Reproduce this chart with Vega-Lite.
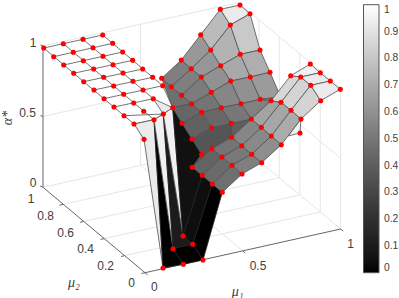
{"$schema":"https://vega.github.io/schema/vega-lite/v6.json","width":399,"height":298,"padding":0,"autosize":"none","background":"white","config":{"view":{"stroke":null}},
"datasets":{
"walls":[
{"p":1,"x":42.7,"y":187.3},{"p":1,"x":238.4,"y":143.6},{"p":1,"x":340.7,"y":229},
{"p":2,"x":42.7,"y":116.5},{"p":2,"x":238.4,"y":72.8},{"p":2,"x":340.7,"y":158.5},
{"p":3,"x":42.7,"y":46},{"p":3,"x":238.4,"y":2.6},{"p":3,"x":340.7,"y":88},
{"p":4,"x":238.4,"y":143.6},{"p":4,"x":238.4,"y":2.6},
{"p":5,"x":140.5,"y":24.3},{"p":5,"x":140.5,"y":165.5},{"p":5,"x":242.8,"y":251},
{"p":6,"x":258.9,"y":19.7},{"p":6,"x":258.9,"y":160.7},{"p":6,"x":63.2,"y":204.4},
{"p":7,"x":279.3,"y":36.8},{"p":7,"x":279.3,"y":177.8},{"p":7,"x":83.6,"y":221.5},
{"p":8,"x":299.8,"y":53.9},{"p":8,"x":299.8,"y":194.9},{"p":8,"x":104.1,"y":238.6},
{"p":9,"x":320.3,"y":71},{"p":9,"x":320.3,"y":212},{"p":9,"x":124.5,"y":255.7},
{"p":10,"x":340.7,"y":88},{"p":10,"x":340.7,"y":229}],
"axes":[
{"p":1,"x":43,"y":46},{"p":1,"x":43,"y":187.3},{"p":1,"x":145,"y":272.7},{"p":1,"x":340.7,"y":229},
{"p":2,"x":40.5,"y":45},{"p":2,"x":43,"y":46},{"p":3,"x":40.5,"y":115.5},{"p":3,"x":43,"y":116.5},{"p":4,"x":40,"y":186},{"p":4,"x":43,"y":187.3},
{"p":5,"x":59.5,"y":205.2},{"p":5,"x":63.2,"y":204.4},{"p":6,"x":80,"y":222.3},{"p":6,"x":83.6,"y":221.5},{"p":7,"x":100.5,"y":239.4},{"p":7,"x":104.1,"y":238.6},{"p":8,"x":121,"y":256.5},{"p":8,"x":124.5,"y":255.7},{"p":9,"x":141.5,"y":273.5},{"p":9,"x":145,"y":272.7},
{"p":10,"x":145,"y":272.7},{"p":10,"x":147.5,"y":274.8},{"p":11,"x":242.8,"y":251},{"p":11,"x":245.3,"y":253.1},{"p":12,"x":340.7,"y":229},{"p":12,"x":343.2,"y":231.1}],
"cbticks":[
{"p":1,"x":376,"y":245.9},{"p":1,"x":379,"y":245.9},{"p":2,"x":376,"y":219.1},{"p":2,"x":379,"y":219.1},{"p":3,"x":376,"y":192.3},{"p":3,"x":379,"y":192.3},{"p":4,"x":376,"y":165.5},{"p":4,"x":379,"y":165.5},{"p":5,"x":376,"y":138.7},{"p":5,"x":379,"y":138.7},{"p":6,"x":376,"y":111.9},{"p":6,"x":379,"y":111.9},{"p":7,"x":376,"y":85.1},{"p":7,"x":379,"y":85.1},{"p":8,"x":376,"y":58.3},{"p":8,"x":379,"y":58.3},{"p":9,"x":376,"y":31.5},{"p":9,"x":379,"y":31.5}],
"polys":[
{"p":1,"a":1,"x":43.7,"y":48},{"p":1,"a":1,"x":102.7,"y":35},{"p":1,"a":1,"x":162.7,"y":85.7},{"p":1,"a":1,"x":172.7,"y":107.7},{"p":1,"a":1,"x":163.3,"y":114},{"p":1,"a":1,"x":154,"y":119.7},{"p":1,"a":1,"x":134,"y":124},{"p":1,"a":1,"x":43.7,"y":48},
{"p":2,"a":1,"x":53.7,"y":56.7},{"p":2,"a":1,"x":112.7,"y":43.3},
{"p":3,"a":1,"x":63.7,"y":65},{"p":3,"a":1,"x":122.7,"y":52},
{"p":4,"a":1,"x":73.7,"y":73.3},{"p":4,"a":1,"x":132.7,"y":60.3},
{"p":5,"a":1,"x":83.7,"y":81.7},{"p":5,"a":1,"x":142.7,"y":69},
{"p":6,"a":1,"x":94,"y":90},{"p":6,"a":1,"x":152.7,"y":77.3},
{"p":7,"a":1,"x":104,"y":98.7},{"p":7,"a":1,"x":162.7,"y":85.7},
{"p":8,"a":1,"x":114,"y":107},{"p":8,"a":1,"x":153.3,"y":98.7},
{"p":9,"a":1,"x":124,"y":115.7},{"p":9,"a":1,"x":163.3,"y":114},
{"p":10,"a":1,"x":63.3,"y":43.7},{"p":10,"a":1,"x":154,"y":119.7},
{"p":11,"a":1,"x":83,"y":39.3},{"p":11,"a":1,"x":153.3,"y":98.7},
{"p":12,"a":0.93,"x":153.3,"y":98.7},{"p":12,"a":0.93,"x":172.7,"y":107.7},{"p":12,"a":0.93,"x":163.3,"y":114},{"p":12,"a":0.93,"x":153.3,"y":98.7},
{"p":13,"a":0.93,"x":134,"y":124},{"p":13,"a":0.93,"x":154,"y":119.7},{"p":13,"a":0.93,"x":163,"y":268},{"p":13,"a":0.93,"x":144,"y":139.3},{"p":13,"a":0.93,"x":134,"y":124},
{"p":14,"a":0,"x":154,"y":119.7},{"p":14,"a":0,"x":173,"y":248.7},{"p":14,"a":0,"x":183.3,"y":264.3},{"p":14,"a":0,"x":163,"y":268},{"p":14,"a":0,"x":154,"y":119.7},
{"p":15,"a":0.95,"x":154,"y":119.7},{"p":15,"a":0.95,"x":163.3,"y":114},{"p":15,"a":0.95,"x":173,"y":248.7},{"p":15,"a":0.95,"x":154,"y":119.7},
{"p":16,"a":0.1,"x":163.3,"y":114},{"p":16,"a":0.1,"x":183,"y":236},{"p":16,"a":0.1,"x":192.7,"y":244.3},{"p":16,"a":0.1,"x":173,"y":248.7},{"p":16,"a":0.1,"x":163.3,"y":114},
{"p":17,"a":0.95,"x":163.3,"y":114},{"p":17,"a":0.95,"x":172.7,"y":107.7},{"p":17,"a":0.95,"x":183,"y":236},{"p":17,"a":0.95,"x":163.3,"y":114},
{"p":18,"a":0.05,"x":172.7,"y":107.7},{"p":18,"a":0.05,"x":192,"y":139},{"p":18,"a":0.05,"x":201.7,"y":154.3},{"p":18,"a":0.05,"x":192.3,"y":167.3},{"p":18,"a":0.05,"x":202.3,"y":175.3},{"p":18,"a":0.05,"x":183,"y":236},{"p":18,"a":0.05,"x":172.7,"y":107.7},
{"p":19,"a":0.04,"x":183,"y":236},{"p":19,"a":0.04,"x":202.3,"y":175.3},{"p":19,"a":0.04,"x":212.3,"y":184},{"p":19,"a":0.04,"x":192.7,"y":244.3},{"p":19,"a":0.04,"x":183,"y":236},
{"p":20,"a":0,"x":192.7,"y":244.3},{"p":20,"a":0,"x":212.3,"y":184},{"p":20,"a":0,"x":222.3,"y":192.3},{"p":20,"a":0,"x":203,"y":260},{"p":20,"a":0,"x":192.7,"y":244.3},
{"p":21,"a":0,"x":173,"y":248.7},{"p":21,"a":0,"x":192.7,"y":244.3},{"p":21,"a":0,"x":203,"y":260},{"p":21,"a":0,"x":183.3,"y":264.3},{"p":21,"a":0,"x":173,"y":248.7},
{"p":22,"a":0.47,"x":161.7,"y":78.3},{"p":22,"a":0.47,"x":171.3,"y":86.7},{"p":22,"a":0.47,"x":181.7,"y":95.3},{"p":22,"a":0.47,"x":191.7,"y":103.7},{"p":22,"a":0.47,"x":172.7,"y":107.7},{"p":22,"a":0.47,"x":161.7,"y":78.3},
{"p":23,"a":0.43,"x":172.7,"y":107.7},{"p":23,"a":0.43,"x":191.7,"y":103.7},{"p":23,"a":0.43,"x":201.7,"y":112.3},{"p":23,"a":0.43,"x":182,"y":123.3},{"p":23,"a":0.43,"x":172.7,"y":107.7},
{"p":24,"a":0.41,"x":182,"y":123.3},{"p":24,"a":0.41,"x":201.7,"y":112.3},{"p":24,"a":0.41,"x":211.7,"y":127.7},{"p":24,"a":0.41,"x":192,"y":139},{"p":24,"a":0.41,"x":182,"y":123.3},
{"p":25,"a":0.36,"x":192,"y":139},{"p":25,"a":0.36,"x":211.7,"y":127.7},{"p":25,"a":0.36,"x":212,"y":148.7},{"p":25,"a":0.36,"x":201.7,"y":154.3},{"p":25,"a":0.36,"x":192,"y":139},
{"p":26,"a":0.36,"x":201.7,"y":154.3},{"p":26,"a":0.36,"x":212,"y":148.7},{"p":26,"a":0.36,"x":192.3,"y":167.3},{"p":26,"a":0.36,"x":201.7,"y":154.3},
{"p":27,"a":0.36,"x":211.7,"y":127.7},{"p":27,"a":0.36,"x":231.3,"y":123.3},{"p":27,"a":0.36,"x":231.7,"y":137.3},{"p":27,"a":0.36,"x":212,"y":148.7},{"p":27,"a":0.36,"x":211.7,"y":127.7},
{"p":28,"a":0.4,"x":231.3,"y":123.3},{"p":28,"a":0.4,"x":251.3,"y":119},{"p":28,"a":0.4,"x":231.7,"y":137.3},{"p":28,"a":0.4,"x":231.3,"y":123.3},
{"p":30,"a":0.53,"x":161.7,"y":78.3},{"p":30,"a":0.53,"x":181.3,"y":60},{"p":30,"a":0.53,"x":191.3,"y":68.7},{"p":30,"a":0.53,"x":171.3,"y":86.7},{"p":30,"a":0.53,"x":161.7,"y":78.3},
{"p":31,"a":0.63,"x":181.3,"y":60},{"p":31,"a":0.63,"x":200.7,"y":34.7},{"p":31,"a":0.63,"x":210.7,"y":50},{"p":31,"a":0.63,"x":191.3,"y":68.7},{"p":31,"a":0.63,"x":181.3,"y":60},
{"p":32,"a":0.76,"x":200.7,"y":34.7},{"p":32,"a":0.76,"x":220.3,"y":9.3},{"p":32,"a":0.76,"x":230.3,"y":25},{"p":32,"a":0.76,"x":210.7,"y":50},{"p":32,"a":0.76,"x":200.7,"y":34.7},
{"p":33,"a":0.93,"x":220.3,"y":9.3},{"p":33,"a":0.93,"x":240,"y":5},{"p":33,"a":0.93,"x":250,"y":13.7},{"p":33,"a":0.93,"x":230.3,"y":25},{"p":33,"a":0.93,"x":220.3,"y":9.3},
{"p":34,"a":0.53,"x":171.3,"y":86.7},{"p":34,"a":0.53,"x":191.3,"y":68.7},{"p":34,"a":0.53,"x":201.3,"y":77},{"p":34,"a":0.53,"x":181.7,"y":95.3},{"p":34,"a":0.53,"x":171.3,"y":86.7},
{"p":35,"a":0.62,"x":191.3,"y":68.7},{"p":35,"a":0.62,"x":210.7,"y":50},{"p":35,"a":0.62,"x":220.7,"y":65.7},{"p":35,"a":0.62,"x":201.3,"y":77},{"p":35,"a":0.62,"x":191.3,"y":68.7},
{"p":36,"a":0.73,"x":210.7,"y":50},{"p":36,"a":0.73,"x":230.3,"y":25},{"p":36,"a":0.73,"x":240.3,"y":54.3},{"p":36,"a":0.73,"x":220.7,"y":65.7},{"p":36,"a":0.73,"x":210.7,"y":50},
{"p":37,"a":0.81,"x":230.3,"y":25},{"p":37,"a":0.81,"x":250,"y":13.7},{"p":37,"a":0.81,"x":260,"y":50},{"p":37,"a":0.81,"x":240.3,"y":54.3},{"p":37,"a":0.81,"x":230.3,"y":25},
{"p":38,"a":0.52,"x":181.7,"y":95.3},{"p":38,"a":0.52,"x":201.3,"y":77},{"p":38,"a":0.52,"x":211.3,"y":92.3},{"p":38,"a":0.52,"x":191.7,"y":103.7},{"p":38,"a":0.52,"x":181.7,"y":95.3},
{"p":39,"a":0.6,"x":201.3,"y":77},{"p":39,"a":0.6,"x":220.7,"y":65.7},{"p":39,"a":0.6,"x":230.7,"y":81},{"p":39,"a":0.6,"x":211.3,"y":92.3},{"p":39,"a":0.6,"x":201.3,"y":77},
{"p":40,"a":0.69,"x":220.7,"y":65.7},{"p":40,"a":0.69,"x":240.3,"y":54.3},{"p":40,"a":0.69,"x":250.3,"y":77},{"p":40,"a":0.69,"x":230.7,"y":81},{"p":40,"a":0.69,"x":220.7,"y":65.7},
{"p":41,"a":0.71,"x":240.3,"y":54.3},{"p":41,"a":0.71,"x":260,"y":50},{"p":41,"a":0.71,"x":270,"y":72.3},{"p":41,"a":0.71,"x":250.3,"y":77},{"p":41,"a":0.71,"x":240.3,"y":54.3},
{"p":42,"a":0.49,"x":191.7,"y":103.7},{"p":42,"a":0.49,"x":211.3,"y":92.3},{"p":42,"a":0.49,"x":221.3,"y":107.7},{"p":42,"a":0.49,"x":201.7,"y":112.3},{"p":42,"a":0.49,"x":191.7,"y":103.7},
{"p":43,"a":0.56,"x":211.3,"y":92.3},{"p":43,"a":0.56,"x":230.7,"y":81},{"p":43,"a":0.56,"x":241,"y":103.7},{"p":43,"a":0.56,"x":221.3,"y":107.7},{"p":43,"a":0.56,"x":211.3,"y":92.3},
{"p":44,"a":0.6,"x":230.7,"y":81},{"p":44,"a":0.6,"x":250.3,"y":77},{"p":44,"a":0.6,"x":260.3,"y":99.3},{"p":44,"a":0.6,"x":241,"y":103.7},{"p":44,"a":0.6,"x":230.7,"y":81},
{"p":45,"a":0.64,"x":250.3,"y":77},{"p":45,"a":0.64,"x":270,"y":72.3},{"p":45,"a":0.64,"x":280.7,"y":97},{"p":45,"a":0.64,"x":260.3,"y":99.3},{"p":45,"a":0.64,"x":250.3,"y":77},
{"p":46,"a":0.44,"x":201.7,"y":112.3},{"p":46,"a":0.44,"x":221.3,"y":107.7},{"p":46,"a":0.44,"x":231.3,"y":123.3},{"p":46,"a":0.44,"x":211.7,"y":127.7},{"p":46,"a":0.44,"x":201.7,"y":112.3},
{"p":47,"a":0.5,"x":221.3,"y":107.7},{"p":47,"a":0.5,"x":241,"y":103.7},{"p":47,"a":0.5,"x":251.3,"y":119},{"p":47,"a":0.5,"x":231.3,"y":123.3},{"p":47,"a":0.5,"x":221.3,"y":107.7},
{"p":48,"a":0.54,"x":241,"y":103.7},{"p":48,"a":0.54,"x":260.3,"y":99.3},{"p":48,"a":0.54,"x":271,"y":100.7},{"p":48,"a":0.54,"x":251.3,"y":119},{"p":48,"a":0.54,"x":241,"y":103.7},
{"p":49,"a":0.58,"x":260.3,"y":99.3},{"p":49,"a":0.58,"x":280.7,"y":97},{"p":49,"a":0.58,"x":281,"y":102.3},{"p":49,"a":0.58,"x":271,"y":100.7},{"p":49,"a":0.58,"x":260.3,"y":99.3},
{"p":50,"a":0.95,"x":300,"y":133},{"p":50,"a":0.95,"x":301,"y":119},{"p":50,"a":0.95,"x":288,"y":136},{"p":50,"a":0.95,"x":300,"y":133},
{"p":51,"a":0.42,"x":192.3,"y":167.3},{"p":51,"a":0.42,"x":212,"y":148.7},{"p":51,"a":0.42,"x":222,"y":157},{"p":51,"a":0.42,"x":202.3,"y":175.3},{"p":51,"a":0.42,"x":192.3,"y":167.3},
{"p":52,"a":0.49,"x":212,"y":148.7},{"p":52,"a":0.49,"x":231.7,"y":137.3},{"p":52,"a":0.49,"x":241.7,"y":145.7},{"p":52,"a":0.49,"x":222,"y":157},{"p":52,"a":0.49,"x":212,"y":148.7},
{"p":53,"a":0.56,"x":231.7,"y":137.3},{"p":53,"a":0.56,"x":251.3,"y":119},{"p":53,"a":0.56,"x":261.3,"y":127.3},{"p":53,"a":0.56,"x":241.7,"y":145.7},{"p":53,"a":0.56,"x":231.7,"y":137.3},
{"p":54,"a":0.67,"x":251.3,"y":119},{"p":54,"a":0.67,"x":271,"y":100.7},{"p":54,"a":0.67,"x":281,"y":102.3},{"p":54,"a":0.67,"x":261.3,"y":127.3},{"p":54,"a":0.67,"x":251.3,"y":119},
{"p":55,"a":0.86,"x":271,"y":100.7},{"p":55,"a":0.86,"x":290.7,"y":75.7},{"p":55,"a":0.86,"x":300.7,"y":77},{"p":55,"a":0.86,"x":281,"y":102.3},{"p":55,"a":0.86,"x":271,"y":100.7},
{"p":56,"a":0.95,"x":290.7,"y":75.7},{"p":56,"a":0.95,"x":310.3,"y":64},{"p":56,"a":0.95,"x":320.3,"y":72.7},{"p":56,"a":0.95,"x":300.7,"y":77},{"p":56,"a":0.95,"x":290.7,"y":75.7},
{"p":57,"a":0.45,"x":202.3,"y":175.3},{"p":57,"a":0.45,"x":222,"y":157},{"p":57,"a":0.45,"x":232,"y":165.3},{"p":57,"a":0.45,"x":212.3,"y":184},{"p":57,"a":0.45,"x":202.3,"y":175.3},
{"p":58,"a":0.51,"x":222,"y":157},{"p":58,"a":0.51,"x":241.7,"y":145.7},{"p":58,"a":0.51,"x":251.7,"y":154.3},{"p":58,"a":0.51,"x":232,"y":165.3},{"p":58,"a":0.51,"x":222,"y":157},
{"p":59,"a":0.57,"x":241.7,"y":145.7},{"p":59,"a":0.57,"x":261.3,"y":127.3},{"p":59,"a":0.57,"x":271.3,"y":136},{"p":59,"a":0.57,"x":251.7,"y":154.3},{"p":59,"a":0.57,"x":241.7,"y":145.7},
{"p":60,"a":0.68,"x":261.3,"y":127.3},{"p":60,"a":0.68,"x":281,"y":102.3},{"p":60,"a":0.68,"x":291,"y":110.3},{"p":60,"a":0.68,"x":271.3,"y":136},{"p":60,"a":0.68,"x":261.3,"y":127.3},
{"p":61,"a":0.85,"x":281,"y":102.3},{"p":61,"a":0.85,"x":300.7,"y":77},{"p":61,"a":0.85,"x":310.7,"y":85.3},{"p":61,"a":0.85,"x":291,"y":110.3},{"p":61,"a":0.85,"x":281,"y":102.3},
{"p":62,"a":0.93,"x":300.7,"y":77},{"p":62,"a":0.93,"x":320.3,"y":72.7},{"p":62,"a":0.93,"x":330.3,"y":81},{"p":62,"a":0.93,"x":310.7,"y":85.3},{"p":62,"a":0.93,"x":300.7,"y":77},
{"p":63,"a":0.47,"x":212.3,"y":184},{"p":63,"a":0.47,"x":232,"y":165.3},{"p":63,"a":0.47,"x":242,"y":174},{"p":63,"a":0.47,"x":222.3,"y":192.3},{"p":63,"a":0.47,"x":212.3,"y":184},
{"p":64,"a":0.53,"x":232,"y":165.3},{"p":64,"a":0.53,"x":251.7,"y":154.3},{"p":64,"a":0.53,"x":261.7,"y":162.7},{"p":64,"a":0.53,"x":242,"y":174},{"p":64,"a":0.53,"x":232,"y":165.3},
{"p":65,"a":0.59,"x":251.7,"y":154.3},{"p":65,"a":0.59,"x":271.3,"y":136},{"p":65,"a":0.59,"x":281.3,"y":144.7},{"p":65,"a":0.59,"x":261.7,"y":162.7},{"p":65,"a":0.59,"x":251.7,"y":154.3},
{"p":66,"a":0.7,"x":271.3,"y":136},{"p":66,"a":0.7,"x":291,"y":110.3},{"p":66,"a":0.7,"x":301,"y":119},{"p":66,"a":0.7,"x":281.3,"y":144.7},{"p":66,"a":0.7,"x":271.3,"y":136},
{"p":67,"a":0.85,"x":291,"y":110.3},{"p":67,"a":0.85,"x":310.7,"y":85.3},{"p":67,"a":0.85,"x":320.7,"y":100.7},{"p":67,"a":0.85,"x":301,"y":119},{"p":67,"a":0.85,"x":291,"y":110.3},
{"p":68,"a":0.93,"x":310.7,"y":85.3},{"p":68,"a":0.93,"x":330.3,"y":81},{"p":68,"a":0.93,"x":340.3,"y":89.3},{"p":68,"a":0.93,"x":320.7,"y":100.7},{"p":68,"a":0.93,"x":310.7,"y":85.3}],
"pts":[
{"x":43.7,"y":48},{"x":53.7,"y":56.7},{"x":63.7,"y":65},{"x":73.7,"y":73.3},{"x":83.7,"y":81.7},{"x":94,"y":90},{"x":104,"y":98.7},{"x":114,"y":107},{"x":124,"y":115.7},{"x":134,"y":124},{"x":144,"y":139.3},
{"x":63.3,"y":43.7},{"x":73.3,"y":52.3},{"x":83.3,"y":60.7},{"x":93.7,"y":69},{"x":103.7,"y":77.3},{"x":113.7,"y":86},{"x":123.7,"y":94.3},{"x":133.7,"y":103},{"x":143.7,"y":111.3},{"x":154,"y":119.7},{"x":163,"y":268},
{"x":83,"y":39.3},{"x":93,"y":47.7},{"x":103,"y":56.3},{"x":113,"y":64.7},{"x":123,"y":73},{"x":133,"y":81.3},{"x":143,"y":90},{"x":153.3,"y":98.7},{"x":163.3,"y":114},{"x":173,"y":248.7},{"x":183.3,"y":264.3},
{"x":102.7,"y":35},{"x":112.7,"y":43.3},{"x":122.7,"y":52},{"x":132.7,"y":60.3},{"x":142.7,"y":69},{"x":152.7,"y":77.3},{"x":162.7,"y":85.7},{"x":172.7,"y":107.7},{"x":183,"y":236},{"x":192.7,"y":244.3},{"x":203,"y":260},
{"x":161.7,"y":78.3},{"x":181.3,"y":60},{"x":200.7,"y":34.7},{"x":220.3,"y":9.3},{"x":240,"y":5},
{"x":171.3,"y":86.7},{"x":191.3,"y":68.7},{"x":210.7,"y":50},{"x":230.3,"y":25},{"x":250,"y":13.7},
{"x":181.7,"y":95.3},{"x":201.3,"y":77},{"x":220.7,"y":65.7},{"x":240.3,"y":54.3},{"x":260,"y":50},
{"x":191.7,"y":103.7},{"x":211.3,"y":92.3},{"x":230.7,"y":81},{"x":250.3,"y":77},{"x":270,"y":72.3},
{"x":182,"y":123.3},{"x":201.7,"y":112.3},{"x":221.3,"y":107.7},{"x":241,"y":103.7},{"x":260.3,"y":99.3},
{"x":192,"y":139},{"x":211.7,"y":127.7},{"x":231.3,"y":123.3},{"x":201.7,"y":154.3},{"x":300,"y":133},
{"x":192.3,"y":167.3},{"x":212,"y":148.7},{"x":231.7,"y":137.3},{"x":251.3,"y":119},{"x":271,"y":100.7},{"x":290.7,"y":75.7},{"x":310.3,"y":64},
{"x":202.3,"y":175.3},{"x":222,"y":157},{"x":241.7,"y":145.7},{"x":261.3,"y":127.3},{"x":281,"y":102.3},{"x":300.7,"y":77},{"x":320.3,"y":72.7},
{"x":212.3,"y":184},{"x":232,"y":165.3},{"x":251.7,"y":154.3},{"x":271.3,"y":136},{"x":291,"y":110.3},{"x":310.7,"y":85.3},{"x":330.3,"y":81},
{"x":222.3,"y":192.3},{"x":242,"y":174},{"x":261.7,"y":162.7},{"x":281.3,"y":144.7},{"x":301,"y":119},{"x":320.7,"y":100.7},{"x":340.3,"y":89.3}],
"ticks":[
{"x":33,"y":43,"t":"1"},{"x":27.5,"y":113,"t":"0.5"},{"x":33,"y":183,"t":"0"},
{"x":31,"y":199.3,"t":"1"},{"x":45.7,"y":215.7,"t":"0.8"},{"x":65.7,"y":232.7,"t":"0.6"},{"x":85.7,"y":249.3,"t":"0.4"},{"x":105.7,"y":266.3,"t":"0.2"},{"x":131.7,"y":283.3,"t":"0"},
{"x":154.3,"y":287.3,"t":"0"},{"x":258,"y":265.7,"t":"0.5"},{"x":350.7,"y":244.3,"t":"1"}],
"titles":[{"x":74,"y":282.5,"t":"μ₂"},{"x":237.7,"y":292,"t":"μ₁"}],
"ztitle":[{"x":8,"y":118,"t":"α*"}]
},
"encoding":{
"x":{"field":"x","type":"quantitative","scale":{"domain":[0,399]},"axis":null},
"y":{"field":"y","type":"quantitative","scale":{"domain":[298,0]},"axis":null}},
"layer":[
{"data":{"name":"walls"},"transform":[{"window":[{"op":"row_number","as":"i"}]}],"mark":{"type":"line","stroke":"#e6e6e6","strokeWidth":1},"encoding":{"order":{"field":"i","type":"quantitative"},"detail":{"field":"p","type":"nominal"}}},
{"data":{"name":"axes"},"transform":[{"window":[{"op":"row_number","as":"i"}]}],"mark":{"type":"line","stroke":"#666666","strokeWidth":1},"encoding":{"order":{"field":"i","type":"quantitative"},"detail":{"field":"p","type":"nominal"}}},
{"data":{"name":"polys"},"transform":[{"window":[{"op":"row_number","as":"i"}]}],"mark":{"type":"line","strokeWidth":0.8},"encoding":{"order":{"field":"i","type":"quantitative"},"detail":{"field":"p","type":"nominal"},
"stroke":{"condition":{"test":"datum.a<0.2","value":"#222222"},"value":"#505050"},
"fill":{"field":"a","type":"quantitative","scale":{"domain":[0,1],"range":["#000000","#ffffff"]},
"legend":{"title":null,"orient":"none","legendX":363.5,"legendY":4.7,"direction":"vertical","type":"gradient","gradientLength":268,"gradientThickness":15.5,"gradientStrokeColor":"#555555","gradientStrokeWidth":1,"values":[0,0.1,0.2,0.3,0.4,0.5,0.6,0.7,0.8,0.9,1],"labelFont":"Liberation Sans","labelFontSize":10.3,"labelColor":"#404040","labelOffset":5,"labelOverlap":false,"format":"~g"}}}},
{"data":{"name":"cbticks"},"mark":{"type":"line","stroke":"#666666","strokeWidth":1},"encoding":{"detail":{"field":"p","type":"nominal"}}},
{"data":{"name":"pts"},"mark":{"type":"circle","color":"#ff0000","opacity":1,"size":26}},
{"data":{"name":"ticks"},"mark":{"type":"text","font":"Liberation Sans","fontSize":12,"color":"#404040","align":"center","baseline":"middle"},"encoding":{"text":{"field":"t"}}},
{"data":{"name":"titles"},"mark":{"type":"text","font":"Liberation Serif","fontStyle":"italic","fontSize":14,"color":"#404040","align":"center","baseline":"middle"},"encoding":{"text":{"field":"t"}}},
{"data":{"name":"ztitle"},"mark":{"type":"text","font":"Liberation Serif","fontStyle":"italic","fontSize":14,"color":"#404040","align":"center","baseline":"middle","angle":270},"encoding":{"text":{"field":"t"}}}
]}
